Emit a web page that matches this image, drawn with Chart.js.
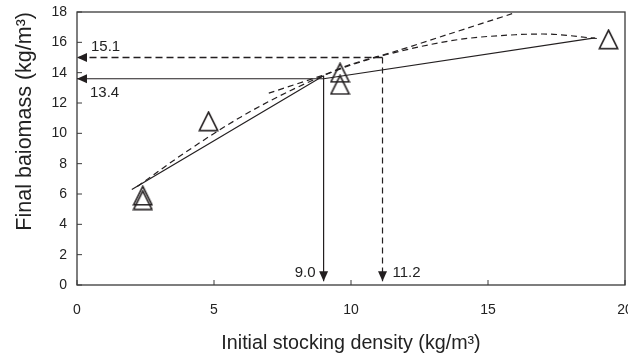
<!DOCTYPE html>
<html>
<head>
<meta charset="utf-8">
<script src="https://cdn.jsdelivr.net/npm/chart.js@4"></script>
<style>
  body { margin: 0; background: #fff; }
  #wrap { width: 628px; height: 359px; overflow: hidden; }
</style>
</head>
<body>
<div id="wrap"><canvas id="myChart" width="641" height="359"></canvas></div>
<script>
// observed points (triangles)
const obsX = [2.4, 2.4, 4.8, 9.6, 9.6, 19.4];
const obsY = [5.9, 5.6, 10.8, 14.0, 13.2, 16.2];

// solid fitted lines (two segments)
const fit1X = [2.0, 9.0];
const fit1Y = [6.3, 13.8];
const fit2X = [9.0, 18.9];
const fit2Y = [13.6, 16.3];

// dashed curves
const quadX = [2.2, 4, 6, 8, 10, 12, 14, 16, 17, 19];
const quadY = [6.5, 8.8, 11.1, 13.0, 14.5, 15.5, 16.2, 16.5, 16.55, 16.25];
const upperX = [7.0, 9.0, 10.0, 11.7, 13.5, 15.9];
const upperY = [12.65, 13.85, 14.55, 15.45, 16.5, 17.9];

// read-off arrows
const solidDownX = [9.0, 9.0];
const solidDownY = [13.8, 0.25];
const solidLeftX = [9.0, 0];
const solidLeftY = [13.6, 13.6];
const dashDownX = [11.15, 11.15];
const dashDownY = [15.0, 0.25];
const dashLeftX = [11.15, 0];
const dashLeftY = [15.0, 15.0];
const arrowLabels = ['9.0', '13.4', '11.2', '15.1'];

const xTicks = [0, 5, 10, 15, 20];
const yTicks = [0, 2, 4, 6, 8, 10, 12, 14, 16, 18];

const ink = '#231f20';
Chart.defaults.font.family = '"Liberation Sans", Arial, sans-serif';
Chart.defaults.color = '#222';

function pts(xs, ys) {
    return xs.map((x, i) => ({x: x, y: ys[i]}));
}

// open triangle marker, centred by its bounding box
const tri = document.createElement('canvas');
tri.width = 21; tri.height = 21;
let tc = tri.getContext('2d');
tc.strokeStyle = ink;
tc.lineWidth = 1.6;
tc.beginPath();
tc.moveTo(10.5, 1.3);
tc.lineTo(1.4, 19.7);
tc.lineTo(19.6, 19.7);
tc.closePath();
tc.stroke();

function lineSet(xs, ys, dashed, extra) {
    return Object.assign({
        data: pts(xs, ys),
        borderColor: ink,
        borderWidth: 1.2,
        borderDash: dashed ? [6, 4] : [],
        pointRadius: 0,
        showLine: true,
        fill: false
    }, extra || {});
}

function noPad(s) {
    s.paddingTop = 0;
    s.paddingBottom = 0;
    s.paddingLeft = 0;
    s.paddingRight = 0;
}

const frame = {
    id: 'frame',
    beforeDatasetsDraw(chart) {
        const ctx = chart.ctx;
        const a = chart.chartArea;
        const sx = chart.scales.x, sy = chart.scales.y;
        ctx.save();
        ctx.strokeStyle = '#3a3a3a';
        ctx.lineWidth = 1.3;
        ctx.strokeRect(a.left, a.top, a.right - a.left, a.bottom - a.top);
        ctx.lineWidth = 1;
        ctx.beginPath();
        for (let v of xTicks) {
            let px = sx.getPixelForValue(v);
            ctx.moveTo(px, a.bottom);
            ctx.lineTo(px, a.bottom - 5);
        }
        for (let v of yTicks) {
            let py = sy.getPixelForValue(v);
            ctx.moveTo(a.left, py);
            ctx.lineTo(a.left + 5, py);
        }
        ctx.stroke();
        ctx.restore();
    }
};

const arrows = {
    id: 'arrows',
    afterDatasetsDraw(chart) {
        const ctx = chart.ctx;
        chart.data.datasets.forEach((ds, i) => {
            if (!ds.arrow) return;
            const d = chart.getDatasetMeta(i).data;
            const p = d[d.length - 1], q = d[d.length - 2];
            const dx = p.x - q.x, dy = p.y - q.y;
            const len = Math.hypot(dx, dy);
            const ux = dx / len, uy = dy / len;
            const L = 10, W = 4.5;
            ctx.save();
            ctx.fillStyle = ink;
            ctx.beginPath();
            ctx.moveTo(p.x, p.y);
            ctx.lineTo(p.x - ux * L - uy * W, p.y - uy * L + ux * W);
            ctx.lineTo(p.x - ux * L + uy * W, p.y - uy * L - ux * W);
            ctx.closePath();
            ctx.fill();
            ctx.font = '15px "Liberation Sans", Arial';
            ctx.fillStyle = '#222';
            ctx.textAlign = ds.labelAlign;
            ctx.textBaseline = 'middle';
            ctx.fillText(ds.label, p.x + ds.labelDx, p.y + ds.labelDy);
            ctx.restore();
        });
    }
};

const ctx = document.getElementById('myChart');

new Chart(ctx, {
    type: 'scatter',
    data: {
        datasets: [
            {
                data: pts(obsX, obsY),
                pointStyle: tri,
                pointRadius: 10,
                showLine: false
            },
            lineSet(fit1X, fit1Y, false),
            lineSet(fit2X, fit2Y, false),
            lineSet(quadX, quadY, true, {cubicInterpolationMode: 'monotone'}),
            lineSet(upperX, upperY, true, {tension: 0.3}),
            lineSet(solidDownX, solidDownY, false, {arrow: true, label: arrowLabels[0], labelAlign: 'right', labelDx: -8, labelDy: -8}),
            lineSet(solidLeftX, solidLeftY, false, {arrow: true, label: arrowLabels[1], labelAlign: 'left', labelDx: 13, labelDy: 14}),
            lineSet(dashDownX, dashDownY, true, {arrow: true, label: arrowLabels[2], labelAlign: 'left', labelDx: 10, labelDy: -8, borderDash: [6, 4]}),
            lineSet(dashLeftX, dashLeftY, true, {arrow: true, label: arrowLabels[3], labelAlign: 'left', labelDx: 14, labelDy: -11, borderDash: [7, 4], borderWidth: 1.4})
        ]
    },
    options: {
        responsive: false,
        animation: false,
        layout: { padding: { top: 12, right: 16, left: 0, bottom: 0 } },
        plugins: {
            legend: { display: false },
            tooltip: { enabled: false }
        },
        scales: {
            x: {
                type: 'linear',
                min: 0,
                max: 20,
                afterBuildTicks(s) { s.ticks = xTicks.map(v => ({value: v})); },
                ticks: { padding: 17, font: { size: 14 }, color: '#222' },
                grid: { display: false, drawTicks: false },
                border: { display: false },
                title: {
                    display: true,
                    text: 'Initial stocking density (kg/m³)',
                    font: { size: 19.7 },
                    color: '#222',
                    padding: { top: 0, bottom: 4 }
                },
                afterFit(s) { s.height = 74; noPad(s); }
            },
            y: {
                min: 0,
                max: 18,
                afterBuildTicks(s) { s.ticks = yTicks.map(v => ({value: v})); },
                ticks: { padding: 10, font: { size: 14 }, color: '#222' },
                grid: { display: false, drawTicks: false },
                border: { display: false },
                title: {
                    display: true,
                    text: 'Final baiomass (kg/m³)',
                    align: 'end',
                    font: { size: 21.5 },
                    color: '#222',
                    padding: { top: 12, bottom: 0 }
                },
                afterFit(s) { s.width = 77; noPad(s); }
            }
        }
    },
    plugins: [frame, arrows]
});
</script>
</body>
</html>
